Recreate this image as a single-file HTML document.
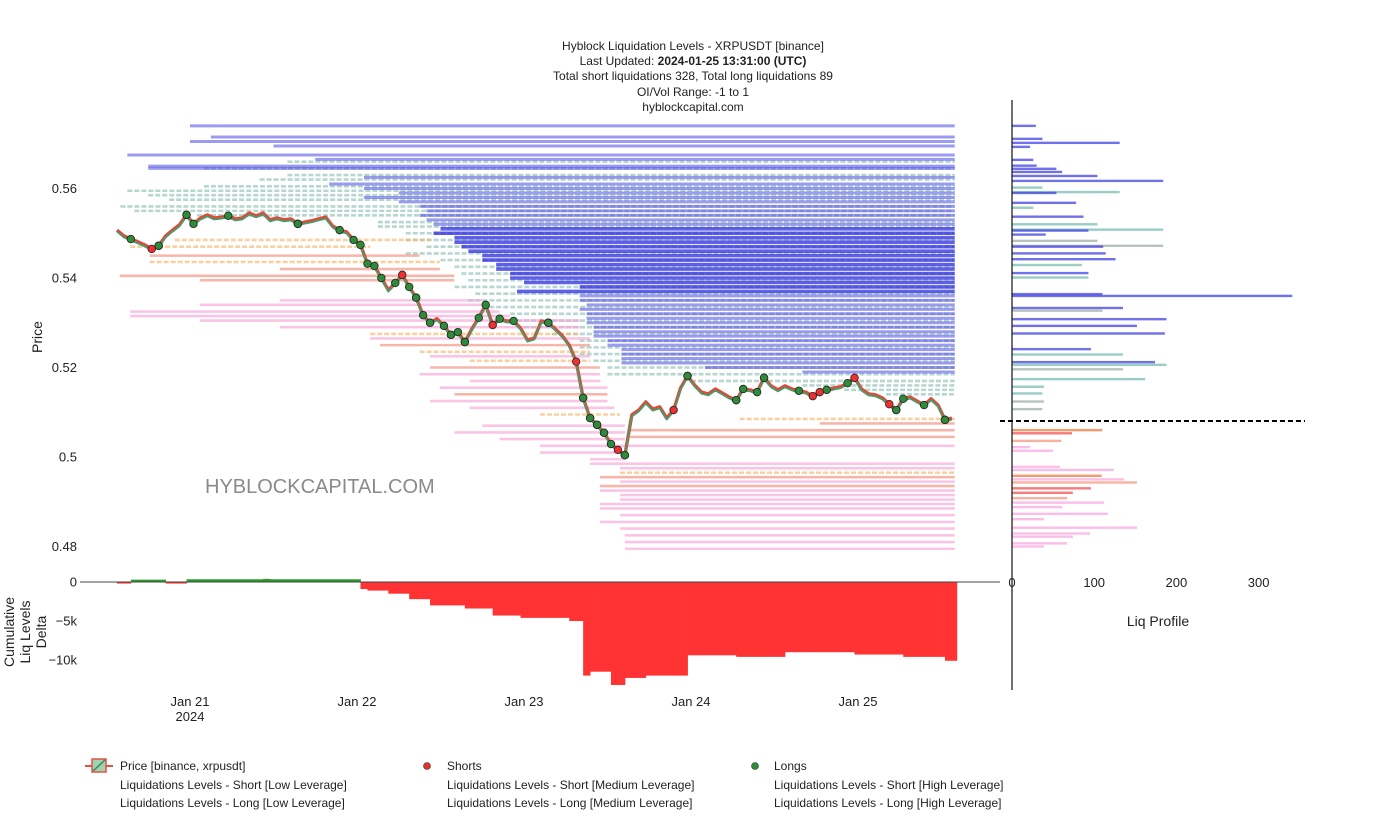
<!DOCTYPE html>
<html><head><meta charset="utf-8"><style>
html,body{margin:0;padding:0;background:#fff;}
svg{display:block;font-family:"Liberation Sans",sans-serif;}
</style></head><body>
<svg id="c" width="1386" height="829" viewBox="0 0 1386 829">
<g font-size="12" text-anchor="middle" fill="#222">
<text x="693" y="50">Hyblock Liquidation Levels - XRPUSDT [binance]</text>
<text x="693" y="65">Last Updated: <tspan font-weight="bold">2024-01-25 13:31:00 (UTC)</tspan></text>
<text x="693" y="80">Total short liquidations 328, Total long liquidations 89</text>
<text x="693" y="96">OI/Vol Range: -1 to 1</text>
<text x="693" y="111">hyblockcapital.com</text>
</g>
<g id="levels"></g>
<g id="price"></g>
<g id="delta"></g>
<g id="prof"></g>
<g id="axes" font-size="13" fill="#222"></g>
<text x="205" y="493" font-size="20" fill="#8a8a8a">HYBLOCKCAPITAL.COM</text>
<g font-size="12" fill="#222">
<g><line x1="85" y1="766" x2="113" y2="766" stroke="#e85040" stroke-width="2"/><rect x="92" y="759" width="14" height="13" fill="#9ed3b0" stroke="#e85040" stroke-width="1.5"/><line x1="93" y1="771" x2="105" y2="760" stroke="#3a8a5a" stroke-width="1.5"/><text x="120" y="770">Price [binance, xrpusdt]</text></g>
<g><circle cx="427" cy="766" r="3.5" fill="#e53030" stroke="#333" stroke-width="0.6"/><text x="447" y="770">Shorts</text></g>
<g><circle cx="755" cy="766" r="3.5" fill="#2e8b3a" stroke="#333" stroke-width="0.6"/><text x="774" y="770">Longs</text></g>
<text x="120" y="789">Liquidations Levels - Short [Low Leverage]</text>
<text x="447" y="789">Liquidations Levels - Short [Medium Leverage]</text>
<text x="774" y="789">Liquidations Levels - Short [High Leverage]</text>
<text x="120" y="807">Liquidations Levels - Long [Low Leverage]</text>
<text x="447" y="807">Liquidations Levels - Long [Medium Leverage]</text>
<text x="774" y="807">Liquidations Levels - Long [High Leverage]</text>
</g>
</svg>
<script>
// ---- data ----
const priceStartHour = 13.5;
const prices = [.5507,.5494,.5487,.5481,.5474,.5465,.5472,.5494,.5507,.5519,.5541,.5521,.5534,.5541,.5534,.5536,.5539,.5532,.5534,.5545,.5539,.5545,.5530,.5534,.5530,.5532,.5521,.5525,.5528,.5532,.5536,.5516,.5507,.5503,.5485,.5474,.5432,.5427,.5400,.5373,.5389,.5407,.5380,.5356,.5317,.5300,.5309,.5293,.5273,.5279,.5257,.5286,.5311,.5340,.5295,.5309,.5304,.5304,.5288,.5261,.5266,.5304,.5300,.5286,.5271,.5250,.5213,.5132,.5087,.5072,.5054,.5029,.5016,.5004,.5094,.5105,.5123,.5107,.5112,.5087,.5105,.5154,.5181,.5161,.5145,.5141,.5152,.5143,.5134,.5127,.5152,.5150,.5145,.5177,.5159,.5150,.5159,.5152,.5148,.5145,.5136,.5145,.5150,.5154,.5157,.5165,.5177,.5152,.5141,.5139,.5132,.5118,.5105,.5130,.5134,.5125,.5116,.5130,.5116,.5083,.5087];
const longsIdx = [2,6,10,11,16,26,32,34,35,36,37,38,40,42,43,44,45,47,48,49,50,52,53,55,57,62,67,68,69,70,71,73,82,89,90,92,93,98,102,105,112,113,116,119];
const shortsIdx = [5,6,10,26,41,43,48,50,54,62,66,67,68,69,70,72,73,80,82,89,93,100,101,106,111,112,119];
const deltaK = [-0.2,-0.2,0.3,0.3,0.3,0.3,0.3,-0.2,-0.2,-0.2,0.35,0.35,0.35,0.35,0.35,0.35,0.35,0.35,0.35,0.35,0.35,0.4,0.35,0.35,0.35,0.35,0.35,0.35,0.35,0.35,0.35,0.35,0.35,0.35,0.35,-0.9,-1.1,-1.1,-1.1,-1.5,-1.5,-1.5,-2.2,-2.2,-2.2,-3.0,-3.0,-3.0,-3.0,-3.0,-3.4,-3.4,-3.4,-3.4,-4.3,-4.3,-4.3,-4.3,-4.6,-4.6,-4.6,-4.6,-4.6,-4.6,-4.6,-5.0,-5.0,-12.0,-11.5,-11.5,-11.5,-13.2,-13.2,-12.3,-12.3,-12.3,-12.0,-12.0,-12.0,-12.0,-12.0,-12.0,-9.4,-9.4,-9.4,-9.4,-9.4,-9.4,-9.4,-9.6,-9.6,-9.6,-9.6,-9.6,-9.6,-9.6,-9.0,-9.0,-9.0,-9.0,-9.0,-9.0,-9.0,-9.0,-9.0,-9.0,-9.3,-9.3,-9.3,-9.3,-9.3,-9.3,-9.3,-9.6,-9.6,-9.6,-9.6,-9.6,-9.6,-10.1,-10.1];
const shortHighP = [.5740,.5715,.5705,.5695,.5675,.5665,.5650,.5645,.5625,.5610,.5600,.5590,.5580,.5570,.5560,.5550,.5540,.5530,.5520,.5510,.5500,.5490,.5480,.5470,.5460,.5450,.5440,.5430,.5420,.5410,.5400,.5390,.5380,.5370,.5360,.5350,.5340,.5330,.5320,.5310,.5300,.5290,.5280,.5270,.5260,.5250,.5240,.5230,.5220,.5210,.5200,.5190];
const shortHighStart = [24,27,24,36,15,42,18,18,49,44,49,54,49,54,57,58,57,58,59,60,59,62,62,63,64,66,66,68,68,70,70,72,80,71,80,80,81,80,81,81,81,82,82,82,84,84,86,86,86,86,98,112];
const shortMedP = [.5660,.5645,.5630,.5620,.5605,.5595,.5585,.5575,.5560,.5550,.5540,.5525,.5515,.5500,.5485,.5470,.5455,.5440,.5425,.5410,.5395,.5380,.5365,.5350,.5335,.5320,.5305,.5290,.5275,.5260,.5245,.5230,.5215,.5200,.5185,.5170,.5160,.5150,.5140];
const shortMedStart = [38,26,38,34,26,15,18,21,14,16,25,51,51,55,55,58,55,60,62,63,64,62,65,64,66,70,70,72,76,80,80,80,82,84,84,96,112,118,124];
const longP = [.5485,.5470,.5450,.5436,.5420,.5405,.5395,.5350,.5340,.5325,.5315,.5305,.5290,.5275,.5265,.5250,.5235,.5225,.5215,.5200,.5185,.5170,.5155,.5140,.5125,.5110,.5095,.5085,.5075,.5070,.5060,.5055,.5045,.5040,.5025,.5010,.4995,.4985,.4975,.4965,.4955,.4945,.4935,.4925,.4915,.4905,.4895,.4885,.4870,.4855,.4840,.4825,.4810,.4795];
const longStart = [21.8,15.4,18.2,18.2,36.9,13.9,25.4,36.9,25.4,15.4,15.4,25.4,36.9,49.9,49.9,51.3,57,58.5,64.2,58.5,57,64.2,59.9,62,58.5,64.2,74.3,103,114.5,66,87.2,62,87.2,68.5,74.3,74.3,81.5,81.5,85.8,85.8,82.9,85.8,82.9,82.9,85.8,85.8,82.9,82.9,85.8,82.9,85.8,86.5,86.5,86.5];
const longEnd = [58.5,49.9,57,59.9,59.9,62,62,66,66,68.5,70,80,80,80,81.5,81.5,81.5,81.5,81.5,82.9,82.9,83,84,84,84,85,85.8,133.9,133.9,86.5,133.9,86.5,133.9,86.5,133.9,86.5,86.5,133.9,133.9,133.9,133.9,133.9,133.9,133.9,133.9,133.9,133.9,133.9,133.9,133.9,133.9,133.9,133.9,133.9];
const longType = ['o','o','s','o','s','s','s','p','p','p','p','p','p','o','p','s','o','p','o','s','p','p','p','s','p','p','o','o','s','p','s','p','s','p','p','p','p','p','p','o','s','p','s','p','p','p','p','p','p','p','p','p','p','p'];
const profShortP = [.5740,.5711,.5702,.5693,.5664,.5651,.5644,.5637,.5628,.5617,.5602,.5592,.5590,.5568,.5557,.5537,.5520,.5508,.5506,.5497,.5483,.5472,.5470,.5455,.5442,.5429,.5411,.5401,.5364,.5360,.5333,.5327,.5308,.5293,.5276,.5241,.5229,.5212,.5206,.5196,.5174,.5157,.5142,.5124,.5107];
const profShortV = [29,37,131,22,26,30,54,61,104,184,37,131,54,78,26,87,104,184,93,41,104,184,111,114,126,85,93,93,110,341,135,110,188,152,186,96,135,174,188,135,162,39,37,39,37];
const profShortT = ['b','b','b','b','b','b','b','b','b','b','t','t','b','b','t','b','t','t','b','b','g','g','b','b','b','t','b','t','b','b','b','g','b','b','b','b','t','b','t','g','t','t','t','g','g'];
const profLongP = [.5060,.5053,.5036,.5022,.5014,.4978,.4971,.4958,.4950,.4943,.4930,.4920,.4908,.4898,.4888,.4873,.4861,.4842,.4829,.4822,.4807,.4800];
const profLongV = [110,73,60,22,50,58,124,109,136,152,96,74,67,112,61,117,39,152,95,74,67,39];
const profLongT = ['o','r','s','p','p','p','p','o','p','s','r','r','s','p','p','p','p','p','p','p','p','p'];
const yTicks = [0.48,0.50,0.52,0.54,0.56];
const yTickLabels = ['0.48','0.5','0.52','0.54','0.56'];
const dTicks = [0,-5,-10];
const dTickLabels = ['0','\u22125k','\u221210k'];
const xTickHours = [24,48,72,96,120];
const xTickLabels = ['Jan 21','Jan 22','Jan 23','Jan 24','Jan 25'];
const pTicks = [0,100,200,300];
const endHour = 133.9;

// ---- scales ----
const xH = h => 23 + h/24*167;
const yP = p => 457 - (p-0.5)*4475;
const yD = v => 582 - v*7.8;
const xV = v => 1012 + v*0.822;
const NS='http://www.w3.org/2000/svg';
function mk(tag, parent, attrs){const e=document.createElementNS(NS,tag);for(const k in attrs)e.setAttribute(k,attrs[k]);parent.appendChild(e);return e;}

const L=document.getElementById('levels');
shortMedP.forEach((p,i)=>{
  const e=mk('line',L,{x1:xH(shortMedStart[i]),x2:xH(endHour),y1:yP(p),y2:yP(p),stroke:'#86bcb0','stroke-width':2.6,'stroke-dasharray':'5,2',opacity:0.6});
  
  
});
shortHighP.forEach((p,i)=>{
  const dark = (p>=0.537 && p<=0.551);
  const e=mk('line',L,{x1:xH(shortHighStart[i]),x2:xH(endHour),y1:yP(p),y2:yP(p),stroke:dark?'#2a2ae0':'#4a4ae6','stroke-width':dark?3.6:3,opacity:dark?0.75:0.55});
  
  
});
const lcol={p:'#f6a6d8',s:'#f4907e',o:'#f6b870'};
longP.forEach((p,i)=>{
  const t=longType[i];
  const e=mk('line',L,{x1:xH(longStart[i]),x2:xH(longEnd[i]),y1:yP(p),y2:yP(p),stroke:lcol[t],'stroke-width':2.6,opacity:0.65});
  if(t==='o') e.setAttribute('stroke-dasharray','5,2');
  
  
});

// price
const P=document.getElementById('price');
const pts=prices.map((p,i)=>xH(priceStartHour+i)+','+yP(p)).join(' ');
const pr=mk('polyline',P,{points:pts,fill:'none',stroke:'#e04a3a','stroke-width':3.4,'stroke-linejoin':'round'});


const pts2=prices.map((p,i)=>xH(priceStartHour+i)+','+(yP(p)+1.5)).join(' ');
const pg=mk('polyline',P,{points:pts2,fill:'none',stroke:'#4a9a6a','stroke-width':1.8,'stroke-linejoin':'round'});


shortsIdx.forEach(i=>{
  const c=mk('circle',P,{cx:xH(priceStartHour+i),cy:yP(prices[i]),r:3.8,fill:'#ee3030',stroke:'#222','stroke-width':0.8});
  
  
});
longsIdx.forEach(i=>{
  const c=mk('circle',P,{cx:xH(priceStartHour+i),cy:yP(prices[i]),r:3.8,fill:'#2e8b3a',stroke:'#222','stroke-width':0.8});
  
  
});

// delta
const D=document.getElementById('delta');
deltaK.forEach((v,i)=>{
  const x0=xH(priceStartHour+i), x1=xH(priceStartHour+Math.min(i+1,deltaK.length-1+0.7));
  const y=yD(v);
  const r=mk('rect',D,{x:x0,y:Math.min(y,582),width:Math.max(x1-x0+0.4,0.5),height:Math.abs(y-582),fill:v>=0?'#2a9a2a':'#ff3333'});
  
  
});

// profile
const R=document.getElementById('prof');
const pcol={b:'#3434e0',t:'#6fb8ac',g:'#9aa8a4',o:'#f07a40',r:'#f05050',s:'#f49a80',p:'#f8a8e0'};
profShortP.forEach((p,i)=>{
  const e=mk('rect',R,{x:1012,y:yP(p)-1.2,width:xV(profShortV[i])-1012,height:2.4,fill:pcol[profShortT[i]],opacity:0.7});
  
  
});
profLongP.forEach((p,i)=>{
  const e=mk('rect',R,{x:1012,y:yP(p)-1.2,width:xV(profLongV[i])-1012,height:2.4,fill:pcol[profLongT[i]],opacity:0.75});
  
  
});
const cur=mk('line',R,{x1:1000,x2:1305,y1:421,y2:421,stroke:'#000','stroke-width':2,'stroke-dasharray':'5,3'});



// axes
const A=document.getElementById('axes');
let e=mk('line',A,{x1:80,x2:1000,y1:582,y2:582,stroke:'#444','stroke-width':1});


e=mk('line',A,{x1:1012,x2:1012,y1:100,y2:690,stroke:'#111','stroke-width':1.2});


yTicks.forEach((v,i)=>{
  const t=mk('text',A,{x:77,y:yP(v)+4.5,'text-anchor':'end'}); t.textContent=yTickLabels[i];
  
  
});
dTicks.forEach((v,i)=>{
  const t=mk('text',A,{x:77,y:yD(v)+4.5,'text-anchor':'end'}); t.textContent=dTickLabels[i];
  
  
});
xTickHours.forEach((h,i)=>{
  const t=mk('text',A,{x:xH(h),y:706,'text-anchor':'middle'}); t.textContent=xTickLabels[i];
  
  
});
e=mk('text',A,{x:xH(24),y:721,'text-anchor':'middle'}); e.textContent='2024';


pTicks.forEach(v=>{
  const t=mk('text',A,{x:xV(v),y:587,'text-anchor':'middle'}); t.textContent=String(v);
  
  
});
e=mk('text',A,{x:1158,y:626,'text-anchor':'middle','font-size':14}); e.textContent='Liq Profile';


e=mk('text',A,{x:0,y:0,'text-anchor':'middle','font-size':14,transform:'translate(42,337) rotate(-90)'}); e.textContent='Price';


['Cumulative','Liq Levels','Delta'].forEach((s,i)=>{
  const t=mk('text',A,{x:0,y:0,'text-anchor':'middle','font-size':14,transform:'translate('+(14+i*16)+',632) rotate(-90)'}); t.textContent=s;
  
  
});
</script>
</body></html>
